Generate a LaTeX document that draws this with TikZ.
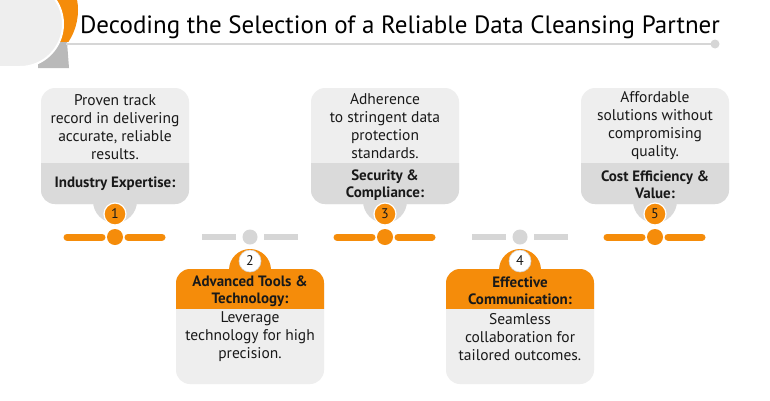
\documentclass[tikz,border=0pt]{standalone}
\usepackage{fontspec}
\setmainfont{PT Sans}
\usetikzlibrary{positioning}
\definecolor{naranja}{RGB}{245,140,10}
\definecolor{claro}{RGB}{238,238,238}
\definecolor{oscuro}{RGB}{218,218,218}
\definecolor{linea}{RGB}{214,214,214}
\definecolor{tinta}{RGB}{25,25,25}
\begin{document}
\begin{tikzpicture}[x=1pt,y=-1pt,
      txt/.style={font=\fontsize{15.5}{18}\selectfont,text=tinta,align=center,inner sep=0pt},
      lbl/.style={font=\fontsize{15}{17}\selectfont\bfseries,text=tinta,align=center,inner sep=0pt},
      num/.style={circle,fill=naranja,draw=white,line width=1.2pt,minimum size=22pt,
                  inner sep=0pt,font=\fontsize{14}{14}\selectfont,text=tinta},
      numb/.style={num,fill=white,draw=linea,line width=0.6pt},
      barra/.style={naranja,line width=7pt,line cap=round},
      barrab/.style={linea,line width=6pt},
      punto/.style={circle,fill=naranja,minimum size=16pt,inner sep=0pt},
      puntob/.style={punto,fill=linea,minimum size=15pt}]
      \useasboundingbox[fill=white] (0,0) rectangle (770,400);
      % Corner badge
      \fill[naranja] (20,10) circle (58);
      \fill[white] (-5,42) rectangle (80,80);
      \fill[oscuro!85!black] (38,42) -- (67,42) -- (69,68) -- (38,68) -- cycle;
      \filldraw[fill=claro,draw=white,line width=2pt] (-5,67) -- (20,67)
            arc[start angle=90,end angle=-90,radius=43] -- (-5,-19) -- cycle;
      % Title
      \draw[linea,line width=1.5pt] (66,44) -- (715,44);
      \fill[linea] (715,44) circle (4.5);
      \node[font=\fontsize{25}{25}\selectfont,text=black] (titulo) at (400,27)
            {Decoding the Selection of a Reliable Data Cleansing Partner};
      % Card 1
      \fill[claro,rounded corners=14] (41,88) rectangle (189,204);
      \begin{scope}
        \clip (0,163) rectangle (770,230);
        \fill[oscuro,rounded corners=14] (41,88) rectangle (189,204);
      \end{scope}
      \fill[oscuro] (115,201) circle (22);
      \node[txt] (t1) at (115,127) {Proven track\\record in delivering\\accurate, reliable\\results.};
      \node[lbl] (l1) at (115,184) {Industry Expertise:};
      \node[num] (n1) at (115,214) {1};
      % Card 3
      \fill[claro,rounded corners=14] (311,88) rectangle (459,204);
      \begin{scope}
        \clip (0,163) rectangle (770,230);
        \fill[oscuro,rounded corners=14] (311,88) rectangle (459,204);
      \end{scope}
      \fill[oscuro] (385,201) circle (22);
      \node[txt] (t3) at (385,126) {Adherence\\to stringent data\\protection\\standards.};
      \node[lbl] (l3) at (385,185) {Security \&\\Compliance:};
      \node[num] (n3) at (385,214) {3};
      % Card 5
      \fill[claro,rounded corners=14] (581,88) rectangle (729,204);
      \begin{scope}
        \clip (0,163) rectangle (770,230);
        \fill[oscuro,rounded corners=14] (581,88) rectangle (729,204);
      \end{scope}
      \fill[oscuro] (655,201) circle (22);
      \node[txt] (t5) at (655,126) {Affordable\\solutions without\\compromising\\quality.};
      \node[lbl] (l5) at (655,185) {Cost Efficiency \&\\Value:};
      \node[num] (n5) at (655,214) {5};
      % Card 2
      \fill[claro,rounded corners=14] (176,269) rectangle (324,384);
      \begin{scope}
        \clip (0,240) rectangle (770,308);
        \fill[naranja,rounded corners=14] (176,269) rectangle (324,384);
      \end{scope}
      \fill[naranja] (250,270) circle (21);
      \node[lbl] (l2) at (250,291) {Advanced Tools \&\\Technology:};
      \node[txt] (t2) at (250,337) {Leverage\\technology for high\\precision.};
      \node[numb] (n2) at (250,261) {2};
      % Card 4
      \fill[claro,rounded corners=14] (446,269) rectangle (594,384);
      \begin{scope}
        \clip (0,240) rectangle (770,308);
        \fill[naranja,rounded corners=14] (446,269) rectangle (594,384);
      \end{scope}
      \fill[naranja] (520,270) circle (21);
      \node[lbl] (l4) at (520,291) {Effective\\Communication:};
      \node[txt] (t4) at (520,337) {Seamless\\collaboration for\\tailored outcomes.};
      \node[numb] (n4) at (520,261) {4};
      % Timeline
      \foreach \cx/\i in {115/1,385/3,655/5} {
        \draw[barra] (\cx-48,237) -- (\cx-13,237);
        \draw[barra] (\cx+13,237) -- (\cx+47,237);
        \node[punto] (p\i) at (\cx,237) {};
      }
      \foreach \cx/\i in {250/2,520/4} {
        \draw[barrab] (\cx-48,237) -- (\cx-14,237);
        \draw[barrab] (\cx+14,237) -- (\cx+48,237);
        \node[puntob] (p\i) at (\cx,237) {};
      }
\end{tikzpicture}
\end{document}
